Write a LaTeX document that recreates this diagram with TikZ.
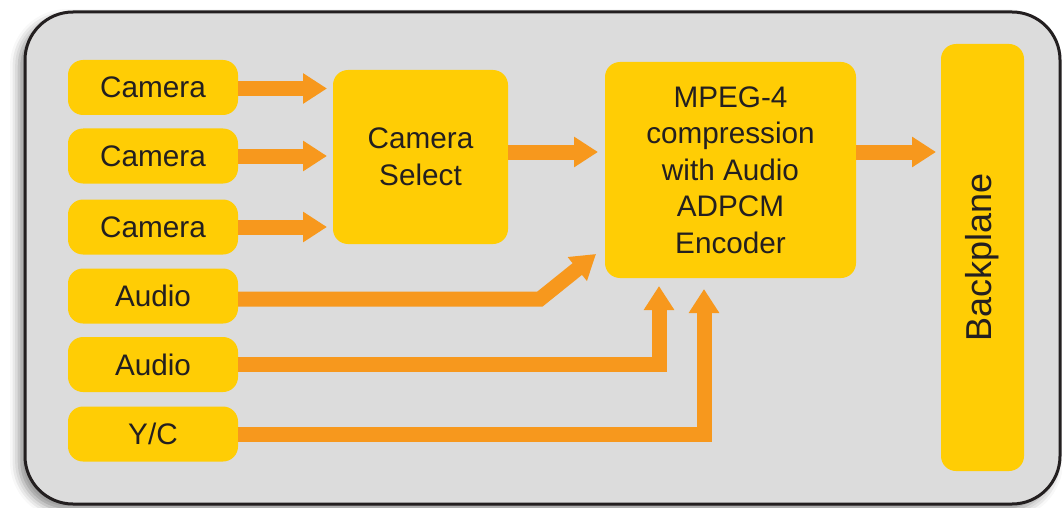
\documentclass[tikz,border=0pt]{standalone}
\usepackage{fontspec}
\setmainfont{Liberation Sans}
\usetikzlibrary{arrows.meta,shadows.blur}
\definecolor{boxy}{HTML}{FFCD05}
\definecolor{arr}{HTML}{F7981D}
\definecolor{bg}{HTML}{DCDCDC}
\definecolor{ink}{HTML}{231F20}
\tikzset{
  inbox/.style={fill=boxy, rounded corners=15pt, minimum width=170pt, minimum height=55pt, inner sep=0pt, text=ink, font=\fontsize{29.7}{36.5}\selectfont},
  bigbox/.style={fill=boxy, rounded corners=15pt, inner sep=0pt, text=ink, align=center, font=\fontsize{29.7}{36.5}\selectfont},
  fat/.style={draw=arr, line width=15pt, line join=miter, -{Triangle[width=29pt,length=24pt]}},
}
\begin{document}
\begin{tikzpicture}[x=1pt,y=-1pt]
\useasboundingbox (0,0) rectangle (1062,508);
\draw[ink, line width=3pt, fill=bg, rounded corners=48pt,
  blur shadow={shadow xshift=-6pt, shadow yshift=-6pt, shadow blur radius=9pt, shadow opacity=45}]
  (25,12) rectangle (1060,504);
\node[inbox] (cam1) at (153,87.5) {Camera};
\node[inbox] (cam2) at (153,156) {Camera};
\node[inbox] (cam3) at (153,227) {Camera};
\node[inbox] (aud1) at (153,296) {Audio};
\node[inbox] (aud2) at (153,364.5) {Audio};
\node[inbox] (yc) at (153,434) {Y/C};
\node[bigbox, minimum width=175pt, minimum height=174pt] (sel) at (420.5,157) {Camera\\Select};
\node[bigbox, minimum width=251pt, minimum height=216pt] (mpeg) at (730.5,170) {MPEG-4\\compression\\with Audio\\ADPCM\\Encoder};
\node[bigbox, minimum width=83pt, minimum height=427pt] (bp) at (982.5,257.5) {};
\node[rotate=90, text=ink, font=\fontsize{36}{40}\selectfont] (bpt) at (bp.center) {Backplane};
\draw[fat] (cam1.east |- 0,88.5) -- (327,88.5);
\draw[fat] (cam2.east) -- (327,156);
\draw[fat] (cam3.east) -- (327,227);
\draw[fat] (sel.east |- 0,152) -- (598,152);
\draw[fat] (mpeg.east |- 0,152) -- (936,152);
\coordinate (a1bend) at (540,299);
\coordinate (a1end) at (596,254);
\draw[fat] (aud1.east |- 0,299) -- (a1bend) -- (a1end);
\coordinate (a2end) at (659,286);
\draw[fat] (aud2.east) -| (a2end);
\coordinate (ycend) at (704,289);
\draw[fat] (yc.east) -| (ycend);
\end{tikzpicture}
\end{document}
